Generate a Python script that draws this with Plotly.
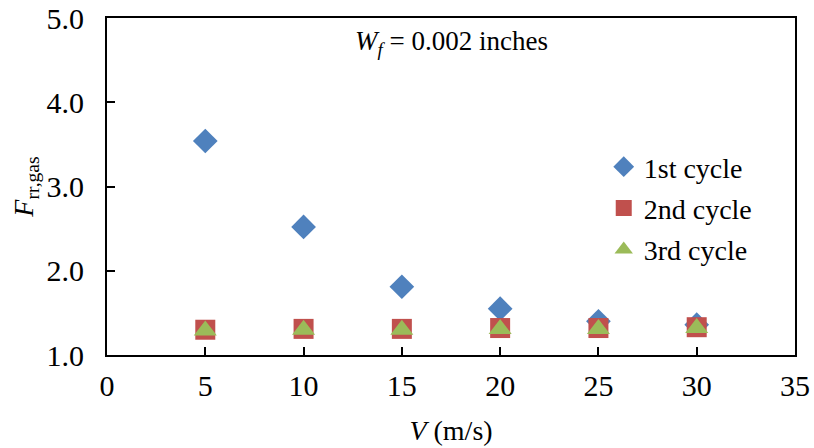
import plotly.graph_objects as go

speed = [5, 10, 15, 20, 25, 30]
cycle1 = [3.54, 2.52, 1.81, 1.55, 1.40, 1.36]
cycle2 = [1.30, 1.31, 1.31, 1.32, 1.32, 1.33]
cycle3 = [1.29, 1.30, 1.30, 1.31, 1.31, 1.32]
names = ["1st cycle", "2nd cycle", "3rd cycle"]
colors = ["#4F81BD", "#C0504D", "#9BBB59"]
symbols = ["diamond", "square", "triangle-up"]
sizes = [19, 20, 20]

FONT = "Liberation Serif"

fig = go.Figure()
for i, ys in enumerate([cycle1, cycle2, cycle3]):
    fig.add_trace(go.Scatter(
        x=speed, y=ys, mode="markers", name=names[i], legendgroup=names[i],
        marker=dict(symbol=symbols[i], color=colors[i], size=sizes[i], line=dict(width=0)),
    ))

fig.update_layout(
    width=814, height=448,
    margin=dict(l=107, r=19, t=18, b=93),
    plot_bgcolor="white", paper_bgcolor="white",
    font=dict(family=FONT, size=26, color="black"),
    showlegend=True,
    legend=dict(x=0.722, y=0.632, xanchor="left", yanchor="top",
                font=dict(family=FONT, size=28), tracegroupgap=2,
                bgcolor="rgba(0,0,0,0)", itemwidth=30),
    xaxis=dict(range=[0, 35], dtick=5, tick0=0, showgrid=False, zeroline=False,
               showline=True, linecolor="black", linewidth=2, mirror=True,
               ticks="inside", ticklen=8, tickwidth=2, tickcolor="black",
               tickfont=dict(family=FONT, size=30), ticklabelstandoff=3, automargin=False,
               title=dict(text="<i>V</i> (m/s)", font=dict(family=FONT, size=28), standoff=19)),
    yaxis=dict(range=[1.0, 5.0], dtick=1.0, tick0=1.0, tickformat=".1f", showgrid=False,
               zeroline=False, showline=True, linecolor="black", linewidth=2, mirror=True,
               ticks="inside", ticklen=8, tickwidth=2, tickcolor="black",
               tickfont=dict(family=FONT, size=30), ticklabelstandoff=15, automargin=False,
               title=dict(text="<i>F</i><sub>rr,gas</sub>", font=dict(family=FONT, size=28), standoff=5)),
)

fig.add_annotation(
    text="<i>W</i><sub><i>f</i></sub> = 0.002 inches",
    xref="paper", yref="paper", x=0.5, y=0.925, xanchor="center", yanchor="middle",
    showarrow=False, font=dict(family=FONT, size=27, color="black"),
)

fig.write_html("out.html")
